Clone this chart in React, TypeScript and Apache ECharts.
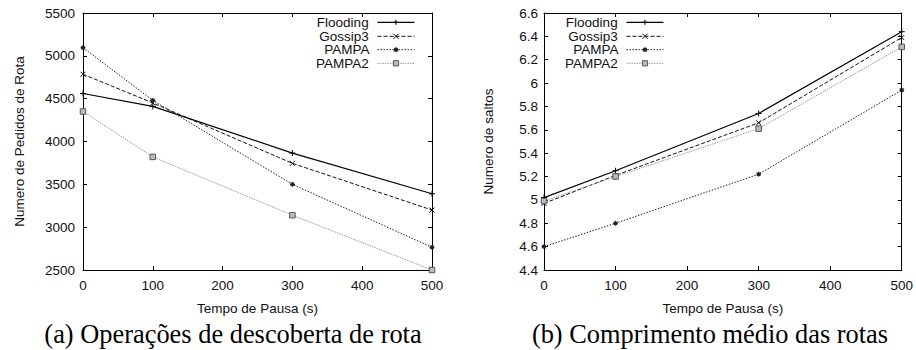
import React, { useEffect, useRef } from "react";
import * as echarts from "echarts";

const pausas = [0, 100, 300, 500];
const seriesNames = ["Flooding", "Gossip3", "PAMPA", "PAMPA2"];

const floodingReq = [4560, 4410, 3865, 3390];
const gossipReq = [4785, 4450, 3745, 3200];
const pampaReq = [5095, 4480, 3500, 2765];
const pampa2Req = [4350, 3820, 3140, 2500];

const floodingHops = [5.02, 5.25, 5.74, 6.44];
const gossipHops = [4.97, 5.21, 5.66, 6.39];
const pampaHops = [4.6, 4.8, 5.22, 5.94];
const pampa2Hops = [4.99, 5.2, 5.61, 6.31];

const captionA = "(a) Operações de descoberta de rota";
const captionB = "(b) Comprimento médio das rotas";
const xTitle = "Tempo de Pausa (s)";
const yTitleA = "Numero de Pedidos de Rota";
const yTitleB = "Numero de saltos";

const SANS = "'Liberation Sans', Arial, Helvetica, sans-serif";
const SERIF = "'Liberation Serif', 'Times New Roman', serif";
const FS = 13.5;

const styles = [
  {
    symbol: "path://M0,5L10,5M5,0L5,10",
    color: "#000",
    lineType: "solid" as any,
    width: 1.2,
    fill: "#000",
    border: "#000",
    size: 6,
  },
  {
    symbol: "path://M0,0L10,10M10,0L0,10",
    color: "#111",
    lineType: [4, 2] as any,
    width: 1,
    fill: "#111",
    border: "#111",
    size: 5,
  },
  {
    symbol:
      "path://M0,5L10,5M5,0L5,10M1.5,1.5L8.5,8.5M8.5,1.5L1.5,8.5M2.5,2.5L7.5,2.5L7.5,7.5L2.5,7.5Z",
    color: "#222",
    lineType: [1.5, 1.5] as any,
    width: 1,
    fill: "#222",
    border: "#222",
    size: 5,
  },
  {
    symbol: "rect",
    color: "#999",
    lineType: [1.5, 1] as any,
    width: 1,
    fill: "#bbb",
    border: "#555",
    size: 5.5,
  },
];

function makeSeries(values: number[][], axisIdx: number) {
  return values.map((vals, i) => {
    const s = styles[i];
    return {
      name: seriesNames[i],
      type: "line",
      xAxisIndex: axisIdx,
      yAxisIndex: axisIdx,
      data: pausas.map((p, k) => [p, vals[k]]),
      clip: false,
      symbol: s.symbol,
      symbolSize: s.size,
      showSymbol: true,
      lineStyle: { color: s.color, width: s.width, type: s.lineType },
      itemStyle: { color: s.fill, borderColor: s.border, borderWidth: 1 },
      emphasis: { disabled: true },
    };
  });
}

const fmt = (v: number) => String(Math.round(v * 100) / 100);

function xAxes(gridIndex: number) {
  const common = {
    gridIndex,
    type: "value",
    min: 0,
    max: 500,
    interval: 100,
    splitLine: { show: false },
    axisLine: { show: true, onZero: false, lineStyle: { color: "#000", width: 1 } },
    axisTick: { show: true, inside: true, length: 4, lineStyle: { color: "#000", width: 1 } },
  };
  return [
    {
      ...common,
      position: "bottom",
      name: xTitle,
      nameLocation: "middle",
      nameGap: 31,
      nameTextStyle: { fontFamily: SANS, fontSize: FS, color: "#111" },
      axisLabel: { margin: 8, fontFamily: SANS, fontSize: FS, color: "#111", formatter: fmt },
    },
    { ...common, position: "top", axisLabel: { show: false } },
  ];
}

function yAxes(gridIndex: number, min: number, max: number, interval: number, name: string, nameGap: number, margin: number) {
  const common = {
    gridIndex,
    type: "value",
    min,
    max,
    interval,
    splitLine: { show: false },
    axisLine: { show: true, onZero: false, lineStyle: { color: "#000", width: 1 } },
    axisTick: { show: true, inside: true, length: 4, lineStyle: { color: "#000", width: 1 } },
  };
  return [
    {
      ...common,
      position: "left",
      name,
      nameLocation: "middle",
      nameGap,
      nameTextStyle: { fontFamily: SANS, fontSize: FS, color: "#111" },
      axisLabel: { margin, fontFamily: SANS, fontSize: FS, color: "#111", formatter: fmt },
    },
    { ...common, position: "right", axisLabel: { show: false } },
  ];
}

const legendRows = [23.3, 37.3, 50.7, 64.3];

function legends(rightPx: number) {
  return seriesNames.map((n, i) => ({
    data: [n],
    orient: "vertical",
    align: "right",
    right: rightPx,
    top: legendRows[i] - 8,
    padding: 0,
    itemWidth: 37,
    itemHeight: 6.5,
    selectedMode: false,
    formatter: "{name} ",
    textStyle: { fontFamily: SANS, fontSize: FS, color: "#111" },
    itemStyle: { borderWidth: 1 },
    lineStyle: { width: styles[i].width },
  }));
}

export default function App() {
  const ref = useRef<HTMLDivElement>(null);
  useEffect(() => {
    if (!ref.current) return;
    const chart = echarts.init(ref.current, undefined, { renderer: "svg" });
    const option: any = {
      animation: false,
      backgroundColor: "#fff",
      grid: [
        { left: 83, right: 484, top: 13, bottom: 80 },
        { left: 544, right: 14, top: 13, bottom: 80 },
      ],
      xAxis: [...xAxes(0), ...xAxes(1)],
      yAxis: [
        ...yAxes(0, 2500, 5500, 500, yTitleA, 57, 8),
        ...yAxes(1, 4.4, 6.6, 0.2, yTitleB, 49, 6),
      ],
      legend: [...legends(501), ...legends(252)],
      series: [
        ...makeSeries([floodingReq, gossipReq, pampaReq, pampa2Req], 0),
        ...makeSeries([floodingHops, gossipHops, pampaHops, pampa2Hops], 2),
      ],
      graphic: [
        {
          type: "text",
          x: 233,
          y: 334,
          style: {
            text: captionA,
            font: `26.4px ${SERIF}`,
            fill: "#000",
            textAlign: "center",
            textVerticalAlign: "middle",
          },
        },
        {
          type: "text",
          x: 710,
          y: 334,
          style: {
            text: captionB,
            font: `26.4px ${SERIF}`,
            fill: "#000",
            textAlign: "center",
            textVerticalAlign: "middle",
          },
        },
      ],
    };
    chart.setOption(option);
    return () => chart.dispose();
  }, []);
  return (
    <div
      ref={ref}
      style={{ position: "fixed", left: 0, top: 0, width: 916, height: 350, background: "#fff" }}
    />
  );
}
